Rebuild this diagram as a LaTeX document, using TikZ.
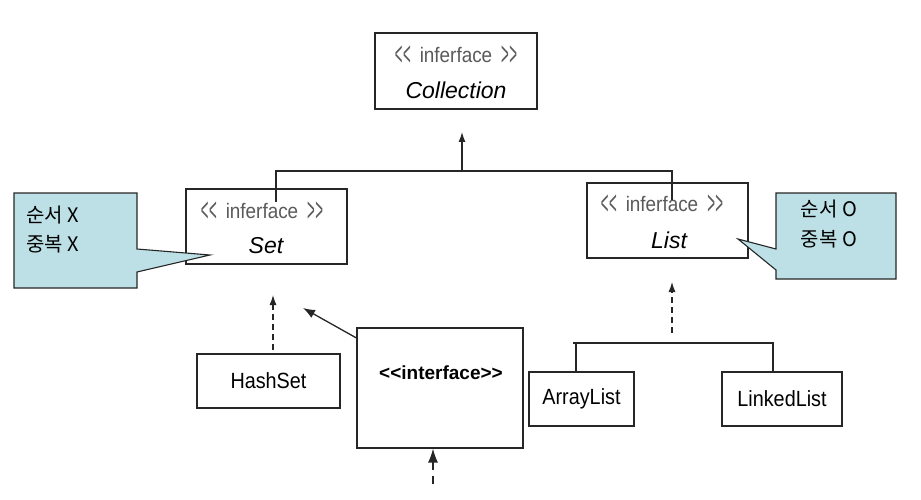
\documentclass[tikz,border=0pt]{standalone}
\usepackage{fontspec}
\setmainfont{Liberation Sans}
\newfontfamily\kr{Noto Sans CJK KR}
\newfontfamily\narrowsans[FakeStretch=0.9]{Liberation Sans}
\usetikzlibrary{arrows.meta}
\definecolor{callfill}{RGB}{188,224,229}
\definecolor{stereo}{RGB}{90,90,90}
\newcommand{\ang}[1]{\raisebox{-3pt}{\scalebox{0.7}[1.6]{\textcolor{stereo}{#1}}}}
\newcommand{\stereoline}{\ang{<}\kern0.5pt\ang{<}\hspace{9pt}inferface\hspace{9pt}\ang{>}\kern0.5pt\ang{>}}
\begin{document}
\begin{tikzpicture}[x=1pt,y=-1pt,
  box/.style={draw=black!85, line width=1.1pt, rectangle, inner sep=0pt, fill=white},
  stxt/.style={inner sep=0pt, text=stereo, font=\narrowsans\fontsize{21}{23}\selectfont},
  ntxt/.style={inner sep=0pt, font=\fontsize{23}{25}\selectfont\itshape},
  ctxt/.style={inner sep=0pt, font=\narrowsans\fontsize{22}{24}\selectfont},
  ktxt/.style={inner sep=0pt, font=\kr\fontsize{20}{22}\selectfont},
  conn/.style={line width=1.3pt, draw=black!85},
  tip/.style={-{Latex[length=10pt,width=7pt]}},
  callout/.style={draw=black!85, line width=1.1pt, fill=callfill}]
\useasboundingbox (0,0) rectangle (921,500);

% boxes
\node[box, minimum width=162pt, minimum height=76pt] (coll) at (456,71) {};
\node[box, minimum width=161pt, minimum height=75pt] (set) at (266.5,226.5) {};
\node[box, minimum width=161pt, minimum height=75pt] (list) at (667.5,220.5) {};
\node[box, minimum width=143pt, minimum height=54pt] (hash) at (268.5,381) {};
\node[box, minimum width=166pt, minimum height=120pt] (iface) at (440,388) {};
\node[box, minimum width=105pt, minimum height=54pt] (alist) at (581.5,399) {};
\node[box, minimum width=120pt, minimum height=54pt] (llist) at (782,399) {};

% texts
\node[stxt] (collst) at (456,56) {\stereoline};
\node[ntxt] (colln) at (456,90) {Collection};
\node[stxt] (setst) at (262,212) {\stereoline};
\node[ntxt] (setn) at (266,246) {Set};
\node[stxt] (listst) at (662,205) {\stereoline};
\node[ntxt] (listn) at (669,240) {List};
\node[ctxt] (hashn) at (268.5,381) {HashSet};
\node[ctxt] (alistn) at (581.5,399) {ArrayList};
\node[ctxt] (llistn) at (782,399) {LinkedList};
\node[inner sep=0pt, font=\fontsize{19}{21}\selectfont\bfseries] (ifacen) at (441,373) {<{}<interface>{}>};

% callouts
\draw[callout] (14,193) -- (137,193) -- (137,249) -- (210,255) -- (137,272) -- (137,288) -- (14,288) -- cycle;
\draw[callout] (776,193) -- (896,193) -- (896,279) -- (776,279) -- (776,270) -- (738,239) -- (776,249) -- cycle;
\node[ktxt, anchor=west] (lk1) at (26,215) {순서 X};
\node[ktxt, anchor=west] (lk2) at (26,244) {중복 X};
\node[ktxt] (rk1) at (829,209) {순서 O};
\node[ktxt] (rk2) at (829,239) {중복 O};

% top hierarchy
\coordinate (bl) at (276,171);
\coordinate (br) at (672,171);
\coordinate (bm) at (462,171);
\coordinate (sIn) at (276,202);
\coordinate (lIn) at (672,200);
\coordinate (ctip) at (462,132);
\draw[conn] (sIn) -- (bl) -- (br) -- (lIn);
\draw[conn, tip] (bm) -- (ctip);

% set implementations
\coordinate (hTail) at (273,350);
\coordinate (hTip) at (273,295);
\draw[conn, tip, dash pattern=on 6pt off 4pt, line width=1.1pt] (hTail) -- (hTip);
\coordinate (iTip) at (303,308);
\draw[conn, -{Latex[length=12pt,width=9pt]}] (iface.north west |- 0,338) -- (iTip);

% list implementations
\coordinate (lbl) at (573,343);
\coordinate (lbr) at (773,343);
\draw[conn] (alist.north -| 576,0) -- (576,343) -- (lbr) -- (llist.north -| 773,0);
\draw[conn] (lbl) -- (576,343);
\coordinate (lTail) at (672,333);
\coordinate (lTip) at (672,282);
\draw[conn, tip, dash pattern=on 6pt off 4pt, line width=1.1pt] (lTail) -- (lTip);

% bottom arrow
\coordinate (bTail) at (433,484);
\draw[conn, -{Latex[length=14pt,width=10pt]}, dash pattern=on 8pt off 6pt] (bTail) -- (iface.south -| 433,0);
\end{tikzpicture}
\end{document}
